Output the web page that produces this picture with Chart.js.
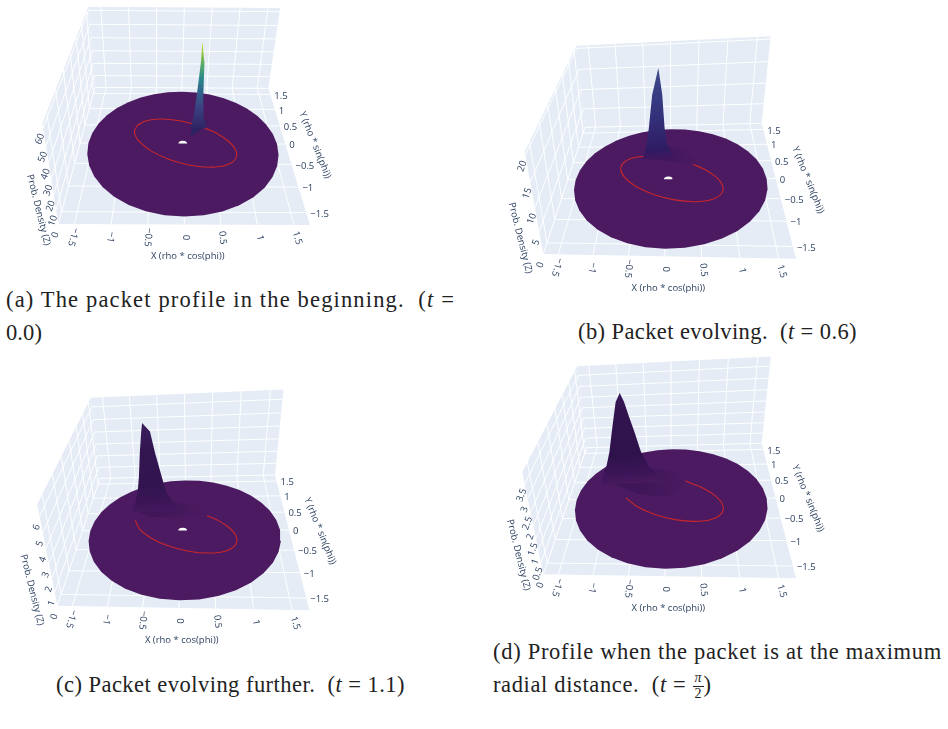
<!DOCTYPE html>
<html>
<head>
<meta charset="utf-8">
<script src="https://cdn.jsdelivr.net/npm/chart.js@4/dist/chart.umd.js"></script>
<style>
  html, body { margin: 0; padding: 0; background: #fff; width: 948px; height: 729px; overflow: hidden; }
  canvas { position: absolute; display: block; }
  .cap { position: absolute; white-space: nowrap; font-family: "Liberation Serif", serif; font-size: 22.5px; line-height: normal; color: #222; }
  .cap i { font-style: italic; }
  .frac { display: inline-block; position: relative; width: 11px; height: 10px; }
  .frac b { position: absolute; left: 0; width: 11px; text-align: center; font-weight: normal; font-size: 14px; line-height: 14px; letter-spacing: 0; }
  .frac b.n { top: -11px; font-style: italic; }
  .frac b.d { top: 5px; }
  .frac s { position: absolute; left: 0; width: 11px; top: 4px; height: 1px; background: #222; }
</style>
</head>
<body>
<script>
// Shared axis values
const axisTicks = [-1.5, -1, -0.5, 0, 0.5, 1, 1.5];
const axisTickNames = ['\u22121.5', '\u22121', '\u22120.5', '0', '0.5', '1', '1.5'];
const axisRange = 1.72;
const rimRho = 1.58;
const holeRho = 0.075;
const rimPhi = [0,10,20,30,40,50,60,70,80,90,100,110,120,130,140,150,160,170,180,190,200,210,220,230,240,250,260,270,280,290,300,310,320,330,340,350,360];
const holePhi = [0,30,60,90,120,150,180];

// Classical orbit traced on the density surface
const orbitX = [-0.801,-0.647,-0.39,-0.071,0.261,0.41,0.557,0.77,0.871,0.841,0.687,0.43,0.111,-0.221,-0.517,-0.73,-0.831];
const orbitY = [0.491,0.632,0.684,0.641,0.509,0.41,0.307,0.068,-0.174,-0.381,-0.522,-0.574,-0.531,-0.399,-0.197,0.042,0.284];

// Panel (a), t = 0
const zTicksA = [0,10,20,30,40,50,60];
const peakZA = [0,8,23,48,62];
const peakLeftA = [-0.175,-0.137,-0.1,-0.059,-0.053];
const peakRightA = [0.105,0.046,0.015,-0.001,-0.053];
const tailXA = [0.126,0.189,0.46,0.308,0.16];
const tailYA = [0.234,0.52,0.665,0.37,0.206];

// Panel (b), t = 0.6
const zTicksB = [0,5,10,15,20];
const peakZB = [0,3.7,7.4,15,20.6];
const peakLeftB = [-0.2,-0.121,-0.077,-0.004,0.105];
const peakRightB = [0.35,0.229,0.193,0.161,0.105];
const tailXB = [-0.45,-0.05,0.25,0.5,0.3,0.0,-0.3];
const tailYB = [0.6,0.52,0.46,0.5,0.8,0.95,0.9];

// Panel (c), t = 1.1
const zTicksC = [0,1,2,3,4,5,6];
const peakZC = [0,0.53,1.53,2.82,4.58,6.1,6.7];
const peakLeftC = [-0.23,-0.187,-0.118,-0.075,-0.034,0.012,0.035];
const peakRightC = [0.8,0.543,0.385,0.315,0.221,0.155,0.035];
const tailXC = [-0.94,-0.815,-0.567,-0.22,0.093,0.43,0.3,-0.2,-0.7];
const tailYC = [0.64,0.54,0.389,0.389,0.45,0.44,0.7,0.85,0.9];

// Panel (d), t = pi/2
const zTicksD = [0,0.5,1,1.5,2,2.5,3,3.5];
const zTickNamesD = ['0','0.5','1','1.5','2','2.5','3','3.5'];
const peakZD = [0,0.39,0.83,1.48,2.26,2.91,3.56,3.9];
const peakLeftD = [-0.345,-0.29,-0.218,-0.144,-0.081,-0.027,0.029,0.105];
const peakRightD = [0.88,0.655,0.508,0.394,0.311,0.236,0.164,0.105];
const tailXD = [-1.244,-1.11,-0.851,-0.547,-0.207,0.073,0.302,0.1,-0.4,-0.9];
const tailYD = [0.704,0.547,0.347,0.155,0.065,0.11,0.447,0.8,0.95,0.95];

const ink = '#2a3f5f';
const wall = '#e5ecf6';
const surfaceBase = '#4b1a60';

const panels = [
  { left: 0, top: 0, w: 340, h: 275, zMax: 62.5,
    corners: { fl:[175,672], fr:[930,675], br:[805,265], bl:[285,262], tfl:[125,365], tbl:[265,18], tbr:[842,30] },
    zTicks: zTicksA, zNames: zTicksA.map(String),
    peak: { x: 0.315, y: 0.42, z: peakZA, l: peakLeftA, r: peakRightA, top: 62,
      stops: [[0,'#2f2565'],[0.1,'#33306f'],[0.25,'#3b4282'],[0.42,'#30648c'],[0.58,'#2c8a8a'],[0.75,'#5fae62'],[0.9,'#a8cf3a'],[1,'#cfe02a']] },
    tail: { x: tailXA, y: tailYA, inner: '#2c2260', outer: '#3a1c66', reach: 20 },
    orbitStart: 0, orbitCount: 18, hole: true,
    zLabel: [38.5,210], yLabel: [315,145], xLabel: [187.7,256.7] },
  { left: 490, top: 30, w: 350, h: 275, zMax: 20.6,
    corners: { fl:[160,672], fr:[918,686], br:[815,280], bl:[285,292], tfl:[95,360], tbl:[265,33], tbr:[842,38] },
    zTicks: zTicksB, zNames: zTicksB.map(String),
    peak: { x: -0.27, y: 0.6, z: peakZB, l: peakLeftB, r: peakRightB, top: 20.6,
      stops: [[0,'#3f1660'],[0.1,'#2f1c62'],[0.45,'#33307a'],[0.75,'#373e84'],[1,'#3f4c8c']] },
    tail: { x: tailXB, y: tailYB, inner: '#40175c', outer: surfaceBase, reach: 42 },
    orbitStart: 5, orbitCount: 15, hole: true,
    zLabel: [30.2,208], yLabel: [318,150], xLabel: [178.3,258.3] },
  { left: 0, top: 385, w: 345, h: 275, zMax: 6.7,
    corners: { fl:[172,662], fr:[928,676], br:[825,270], bl:[300,280], tfl:[105,350], tbl:[275,28], tbr:[852,30] },
    zTicks: zTicksC, zNames: zTicksC.map(String),
    peak: { x: -0.68, y: 0.55, z: peakZC, l: peakLeftC, r: peakRightC, top: 6.7,
      stops: [[0,'#45185d'],[0.12,'#3a1556'],[0.3,'#321450'],[0.7,'#331650'],[1,'#3a1d5e']] },
    tail: { x: tailXC, y: tailYC, inner: '#41175a', outer: surfaceBase, reach: 60 },
    orbitStart: 5, orbitCount: 12, hole: true,
    zLabel: [32,205], yLabel: [320,146], xLabel: [181.7,255] },
  { left: 490, top: 355, w: 350, h: 275, zMax: 3.9,
    corners: { fl:[160,658], fr:[918,670], br:[815,265], bl:[290,278], tfl:[92,350], tbl:[265,18], tbr:[842,22] },
    zTicks: zTicksD, zNames: zTickNamesD,
    peak: { x: -0.88, y: 0.47, z: peakZD, l: peakLeftD, r: peakRightD, top: 3.9,
      stops: [[0,'#47195d'],[0.1,'#3c1558'],[0.3,'#2f124c'],[0.8,'#32134f'],[1,'#38195a']] },
    tail: { x: tailXD, y: tailYD, inner: '#3f1659', outer: surfaceBase, reach: 70 },
    orbitStart: 3, orbitCount: 13, hole: false,
    zLabel: [28.5,200], yLabel: [318,143.3], xLabel: [178.3,253.3] }
];

// Gaussian elimination for the small calibration systems
function solve(A, b) {
  const n = b.length, M = A.map((r, i) => [...r, b[i]]);
  for (let c = 0; c < n; c++) {
    let p = c;
    for (let r = c + 1; r < n; r++) if (Math.abs(M[r][c]) > Math.abs(M[p][c])) p = r;
    [M[c], M[p]] = [M[p], M[c]];
    for (let r = 0; r < n; r++) {
      if (r === c) continue;
      const f = M[r][c] / M[c][c];
      for (let k = c; k <= n; k++) M[r][k] -= f * M[c][k];
    }
  }
  return M.map((r, i) => r[n] / r[i]);
}

// Perspective camera of one 3D scene, derived from its box corners
function camera(p) {
  const R = axisRange, px = q => [q[0] / 3, q[1] / 3];
  const c = p.corners;
  const src = [[-R,-R,px(c.fl)],[R,-R,px(c.fr)],[R,R,px(c.br)],[-R,R,px(c.bl)]];
  const A = [], b = [];
  src.forEach(([x,y,[u,v]]) => {
    A.push([x,y,1,0,0,0,-u*x,-u*y]); b.push(u);
    A.push([0,0,0,x,y,1,-v*x,-v*y]); b.push(v);
  });
  const h = solve(A, b);
  const tops = [[-R,-R,px(c.tfl)],[-R,R,px(c.tbl)],[R,R,px(c.tbr)]];
  const Z = p.zMax, N = [[0,0,0],[0,0,0],[0,0,0]], g = [0,0,0];
  tops.forEach(([x,y,[u,v]]) => {
    const X = h[0]*x+h[1]*y+h[2], Y = h[3]*x+h[4]*y+h[5], W = h[6]*x+h[7]*y+1;
    [[[Z,0,-u*Z], u*W-X], [[0,Z,-v*Z], v*W-Y]].forEach(([row, rhs]) => {
      for (let i = 0; i < 3; i++) { g[i] += row[i]*rhs; for (let j = 0; j < 3; j++) N[i][j] += row[i]*row[j]; }
    });
  });
  const k = solve(N, g);
  return (x, y, z = 0) => {
    const W = h[6]*x+h[7]*y+1+z*k[2];
    return { x: (h[0]*x+h[1]*y+h[2]+z*k[0])/W, y: (h[3]*x+h[4]*y+h[5]+z*k[1])/W };
  };
}

const polygon = (data, color) => ({ data, showLine: true, fill: 'shape', backgroundColor: color, borderWidth: 0, borderColor: 'transparent', pointRadius: 0 });
const stroke = (data, color, width, tension = 0) => ({ data, showLine: true, fill: false, borderColor: color, borderWidth: width, pointRadius: 0, tension });

function buildDatasets(p, cam, ctx) {
  const R = axisRange, Z = p.zMax, sets = [];
  // Box walls and floor
  sets.push(polygon([cam(-R,-R),cam(R,-R),cam(R,R),cam(-R,R)], wall));
  sets.push(polygon([cam(-R,R),cam(R,R),cam(R,R,Z),cam(-R,R,Z)], wall));
  sets.push(polygon([cam(-R,-R),cam(-R,R),cam(-R,R,Z),cam(-R,-R,Z)], wall));
  // Grid lines
  axisTicks.forEach(t => {
    sets.push(stroke([cam(t,-R),cam(t,R),cam(t,R,Z)], '#fff', 1));
    sets.push(stroke([cam(R,t),cam(-R,t),cam(-R,t,Z)], '#fff', 1));
  });
  p.zTicks.forEach(z => sets.push(stroke([cam(-R,-R,z),cam(-R,R,z),cam(R,R,z)], '#fff', 1)));
  // Density surface away from the packet
  sets.push(polygon(rimPhi.map(a => cam(rimRho*Math.cos(a*Math.PI/180), rimRho*Math.sin(a*Math.PI/180))), surfaceBase));
  if (p.hole) sets.push(polygon(holePhi.map(a => cam(holeRho*Math.cos(a*Math.PI/180), holeRho*Math.sin(a*Math.PI/180))), '#fff'));
  // Orbit
  const orbit = [];
  for (let i = 0; i < p.orbitCount; i++) {
    const j = (p.orbitStart + i) % orbitX.length;
    orbit.push(cam(orbitX[j], orbitY[j]));
  }
  sets.push(stroke(orbit, '#c9272b', 1.1, 0.4));
  // Low flank of the packet, shaded outward from its foot, then the main body
  const k = p.peak, a = cam(k.x, k.y, 0), b = cam(k.x, k.y, k.top);
  const flank = ctx.createRadialGradient(a.x, a.y, 0, a.x, a.y, p.tail.reach);
  flank.addColorStop(0, p.tail.inner);
  flank.addColorStop(0.3, p.tail.inner);
  flank.addColorStop(1, p.tail.outer);
  sets.push(polygon(p.tail.x.map((x, i) => cam(x, p.tail.y[i])), flank));
  const pts = [];
  k.z.forEach((z, i) => pts.push(cam(k.x + k.l[i], k.y, z)));
  for (let i = k.z.length - 1; i >= 0; i--) pts.push(cam(k.x + k.r[i], k.y, k.z[i]));
  const grad = ctx.createLinearGradient(a.x, a.y, b.x, b.y);
  k.stops.forEach(([s, c]) => grad.addColorStop(s, c));
  sets.push(polygon(pts, grad));
  sets.forEach((d, i) => { d.order = sets.length - i; });
  return sets;
}

// Tick labels and axis titles for one scene
const axisText = {
  id: 'axisText',
  afterDraw(chart, args, opts) {
    const { p, cam } = opts, g = chart.ctx, R = axisRange;
    const put = (txt, x, y, deg, size, align = 'center') => {
      g.save();
      g.translate(x, y);
      g.rotate(deg * Math.PI / 180);
      g.font = size + 'px "Open Sans"';
      g.fillStyle = ink;
      g.textAlign = align;
      g.textBaseline = 'middle';
      g.fillText(txt, 0, 0);
      g.restore();
    };
    axisTicks.forEach((t, i) => {
      const a = cam(t, -R);
      put(axisTickNames[i], a.x + 1 + t * 1.5, a.y + 13, 90 - 11 * t, 9.5);
      const b = cam(R, t);
      put(axisTickNames[i], b.x + 4, b.y + 1.5, 0, 9.5, 'left');
    });
    p.zTicks.forEach((z, i) => {
      const a = cam(-R, -R, z);
      put(p.zNames[i], a.x - 3, a.y + 11, -70, 9.5);
    });
    put('X (rho * cos(phi))', p.xLabel[0], p.xLabel[1], 0, 9.5);
    put('Y (rho * sin(phi))', p.yLabel[0], p.yLabel[1], 68, 9.5);
    put('Prob. Density (Z)', p.zLabel[0], p.zLabel[1], 76, 9.5);
  }
};

panels.forEach(p => {
  const canvas = document.createElement('canvas');
  canvas.width = p.w; canvas.height = p.h;
  canvas.style.left = p.left + 'px'; canvas.style.top = p.top + 'px';
  canvas.style.width = p.w + 'px'; canvas.style.height = p.h + 'px';
  document.body.appendChild(canvas);
  const cam = camera(p);
  new Chart(canvas, {
    type: 'scatter',
    data: { datasets: buildDatasets(p, cam, canvas.getContext('2d')) },
    options: {
      responsive: false, animation: false, events: [],
      layout: { padding: 0 },
      scales: {
        x: { type: 'linear', display: false, min: 0, max: p.w },
        y: { type: 'linear', display: false, min: 0, max: p.h, reverse: true }
      },
      plugins: { legend: { display: false }, tooltip: { enabled: false }, axisText: { p, cam } }
    },
    plugins: [axisText]
  });
});

// Subfigure captions, one entry per printed line
const captionSize = 22.5;
const captions = [
  { html: '(a) The packet profile in the beginning. &nbsp;(<i>t</i> =', left: 6, right: 455, base: 307 },
  { html: '0.0)', left: 6, right: 42, base: 340 },
  { html: '(b) Packet evolving. &nbsp;(<i>t</i> = 0.6)', left: 578, right: 857, base: 339 },
  { html: '(c) Packet evolving further. &nbsp;(<i>t</i> = 1.1)', left: 56, right: 405, base: 692 },
  { html: '(d) Profile when the packet is at the maximum', left: 493, right: 942, base: 659 },
  { html: 'radial distance. &nbsp;(<i>t</i> = <span class="frac"><b class="n">\u03c0</b><s></s><b class="d">2</b></span>)', left: 493, right: 713, base: 692 }
];
captions.forEach(c => {
  const el = document.createElement('div');
  el.className = 'cap';
  el.innerHTML = c.html;
  el.style.left = c.left + 'px';
  el.style.top = (c.base - captionSize * 0.891) + 'px';
  document.body.appendChild(el);
  const chars = el.textContent.length;
  const gap = (c.right - c.left - el.getBoundingClientRect().width) / chars;
  el.style.letterSpacing = gap.toFixed(3) + 'px';
});
</script>
</body>
</html>
